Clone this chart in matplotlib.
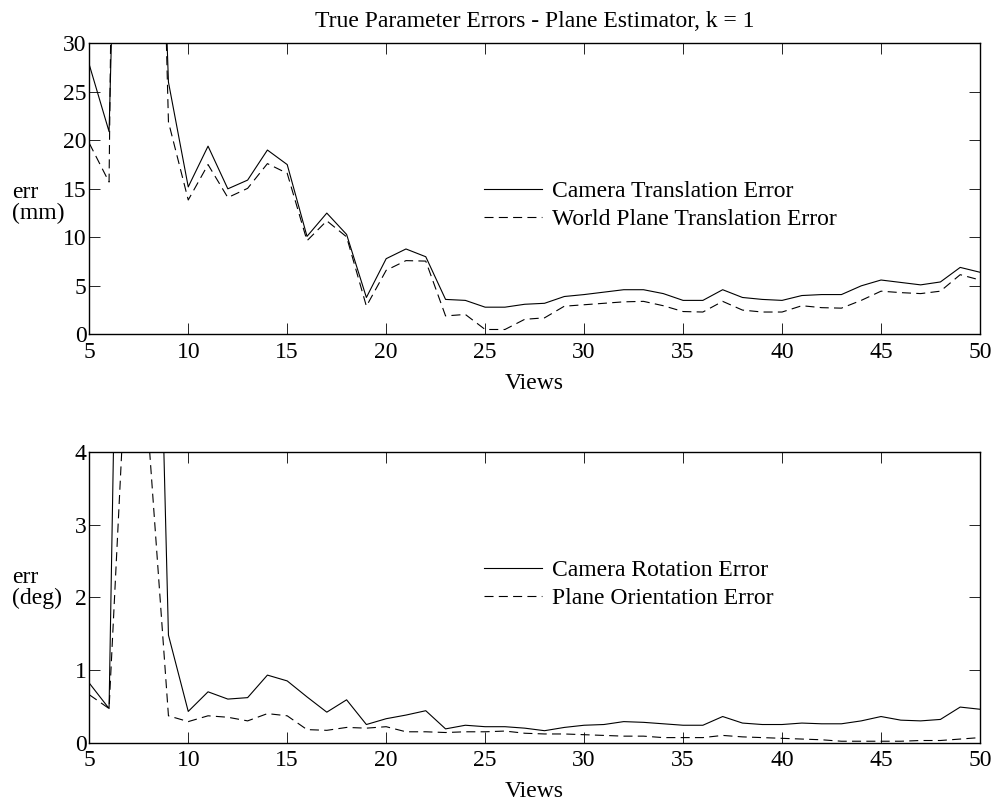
import matplotlib
matplotlib.use("Agg")
import matplotlib.pyplot as plt

plt.rcParams['font.family'] = ['Liberation Serif', 'DejaVu Serif']
plt.rcParams['font.size'] = 17
plt.rcParams['lines.scale_dashes'] = False

views = list(range(5, 51))

# top panel (mm)
cam_trans = [27.8, 20.9, 100, 85, 26.0, 15.2, 19.4, 15.0, 15.9, 19.0,
             17.5, 10.1, 12.5, 10.3, 3.8, 7.8, 8.8, 8.0, 3.6, 3.5,
             2.8, 2.8, 3.1, 3.2, 3.9, 4.1, 4.35, 4.6, 4.6, 4.2,
             3.5, 3.5, 4.6, 3.8, 3.6, 3.5, 4.0, 4.1, 4.1, 5.0,
             5.6, 5.35, 5.1, 5.4, 6.9, 6.4]
plane_trans = [19.7, 15.7, 200, 100, 21.9, 13.85, 17.5, 14.1, 15.05, 17.6,
               16.6, 9.65, 11.7, 10.05, 2.9, 6.6, 7.6, 7.55, 1.9, 2.05,
               0.5, 0.5, 1.55, 1.7, 2.9, 3.05, 3.2, 3.35, 3.4, 2.95,
               2.35, 2.3, 3.4, 2.5, 2.3, 2.3, 2.95, 2.75, 2.7, 3.5,
               4.45, 4.3, 4.2, 4.45, 6.15, 5.6]

# bottom panel (deg)
cam_rot = [0.82, 0.47, 16.5, 12.4, 1.48, 0.43, 0.70, 0.60, 0.62, 0.93,
           0.85, 0.63, 0.42, 0.59, 0.25, 0.33, 0.38, 0.44, 0.19, 0.24,
           0.22, 0.22, 0.20, 0.165, 0.21, 0.24, 0.25, 0.29, 0.28, 0.26,
           0.24, 0.24, 0.36, 0.27, 0.25, 0.25, 0.27, 0.26, 0.26, 0.30,
           0.36, 0.31, 0.30, 0.32, 0.49, 0.46]
plane_orient = [0.66, 0.47, 6.0, 4.2, 0.37, 0.29, 0.37, 0.35, 0.30, 0.40,
                0.37, 0.18, 0.17, 0.21, 0.20, 0.22, 0.15, 0.15, 0.14, 0.15,
                0.15, 0.16, 0.13, 0.12, 0.12, 0.11, 0.10, 0.09, 0.09, 0.07,
                0.07, 0.07, 0.10, 0.08, 0.07, 0.06, 0.05, 0.04, 0.02, 0.02,
                0.02, 0.02, 0.03, 0.03, 0.05, 0.07]

dash = (0, (6.5, 3.8))

fig = plt.figure(figsize=(9.93, 8.01), dpi=100)
ax1 = fig.add_axes([0.0899, 0.5826, 0.897, 0.3633])
ax2 = fig.add_axes([0.0899, 0.0728, 0.897, 0.3629])


def style(ax, ymax, yticks):
    ax.set_xlim(5, 50)
    ax.set_ylim(0, ymax)
    ax.set_xticks(range(5, 51, 5))
    ax.set_yticks(yticks)
    ax.tick_params(direction='in', length=8, width=0.6, top=True, right=True,
                   labelsize=17, pad=2)
    ax.tick_params(axis='x', pad=5.5)
    for s in ax.spines.values():
        s.set_linewidth(1.0)
    ax.set_xlabel("Views", fontsize=17, labelpad=7)


leg_kw = dict(loc='center left', frameon=False, handlelength=2.45,
              handletextpad=0.42, labelspacing=0.28, borderpad=0,
              borderaxespad=0, fontsize=17)

ax1.plot(views, cam_trans, color='black', lw=0.8, label="Camera Translation Error")
ax1.plot(views, plane_trans, color='black', lw=0.8, ls=dash,
         label="World Plane Translation Error")
style(ax1, 30, range(0, 31, 5))
ax1.legend(bbox_to_anchor=(0.443, 0.443), **leg_kw)
ax1.set_title("True Parameter Errors - Plane Estimator, k = 1", fontsize=17, pad=12)

ax2.plot(views, cam_rot, color='black', lw=0.8, label="Camera Rotation Error")
ax2.plot(views, plane_orient, color='black', lw=0.8, ls=dash,
         label="Plane Orientation Error")
style(ax2, 4, range(0, 5))
ax2.legend(bbox_to_anchor=(0.443, 0.545), **leg_kw)

fig.text(12 / 993, 1 - 203 / 801, "err\n(mm)", ha='left', va='center',
         fontsize=17, linespacing=0.95)
fig.text(12 / 993, 1 - 588 / 801, "err\n(deg)", ha='left', va='center',
         fontsize=17, linespacing=0.95)

fig.savefig("out.png", dpi=100)
